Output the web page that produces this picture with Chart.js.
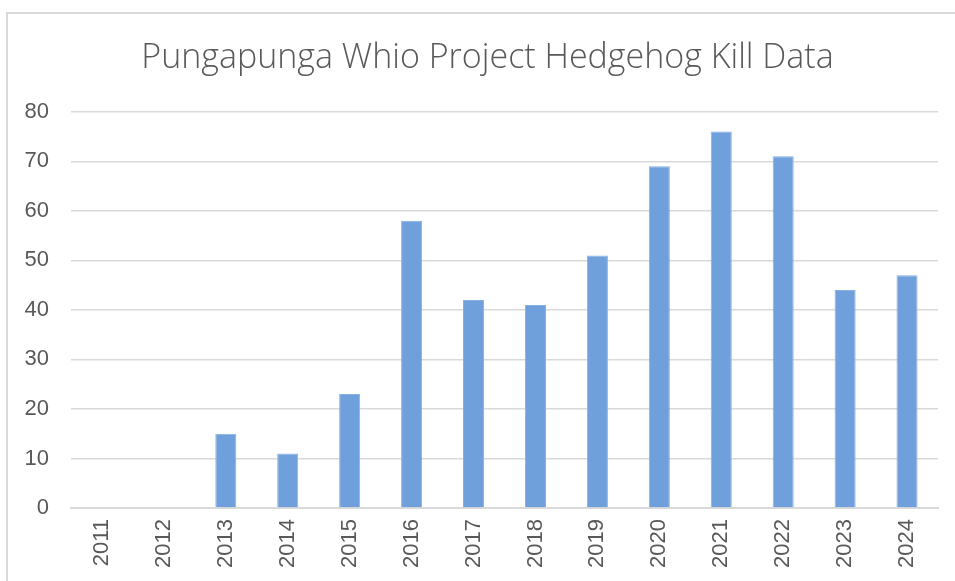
<!DOCTYPE html>
<html>
<head>
<meta charset="utf-8">
<script src="https://cdn.jsdelivr.net/npm/chart.js@4"></script>
<style>
  body { margin: 0; background: #fff; }
  #frame { position: absolute; left: 6px; top: 12px; width: 1000px; height: 1000px; border: 2px solid #d9d9d9; }
  #wrap { position: absolute; left: 0; top: 0; width: 955px; height: 581px; }
</style>
</head>
<body>
<div id="frame"></div>
<div id="wrap"><canvas id="killChart"></canvas></div>
<script>
// Hedgehog kills per year
const years = ['2011', '2012', '2013', '2014', '2015', '2016', '2017', '2018', '2019', '2020', '2021', '2022', '2023', '2024'];
const kills = [0, 0, 15, 11, 23, 58, 42, 41, 51, 69, 76, 71, 44, 47];
const yTicks = [0, 10, 20, 30, 40, 50, 60, 70, 80];

// nudge the title so it is centred on the frame, not on the canvas
const shiftTitle = {
    id: 'shiftTitle',
    afterLayout(chart) {
        const t = chart.titleBlock;
        if (t) { t.left += 37; t.width -= 37; }
    }
};

const ctx = document.getElementById('killChart').getContext('2d');
new Chart(ctx, {
    type: 'bar',
    data: {
        labels: years,
        datasets: [{
            label: 'Hedgehogs',
            data: kills,
            backgroundColor: '#6fa0dc',
            borderColor: '#86b0e3',
            borderWidth: 1,
            barPercentage: 0.34,
            categoryPercentage: 1
        }]
    },
    options: {
        responsive: true,
        maintainAspectRatio: false,
        animation: false,
        layout: { padding: { left: 0, right: 17, top: 0, bottom: 0 } },
        plugins: {
            legend: { display: false },
            tooltip: { enabled: false },
            title: {
                display: true,
                text: 'Pungapunga Whio Project Hedgehog Kill Data',
                color: '#595959',
                font: { family: 'Open Sans', size: 34, weight: 300, lineHeight: 1.2 },
                padding: { top: 38, bottom: 33 }
            }
        },
        scales: {
            x: {
                grid: { display: false },
                border: { color: '#d9d9d9', width: 2 },
                ticks: {
                    color: '#595959',
                    font: { family: 'Liberation Sans', size: 22 },
                    minRotation: 90,
                    maxRotation: 90,
                    padding: 3
                },
                afterFit: scale => { scale.height = 73; }
            },
            y: {
                min: 0,
                max: 80,
                afterBuildTicks: scale => { scale.ticks = yTicks.map(v => ({ value: v })); },
                grid: { color: '#d9d9d9', lineWidth: 1.5, drawTicks: false },
                border: { display: false },
                ticks: {
                    color: '#595959',
                    font: { family: 'Liberation Sans', size: 22 },
                    padding: 22
                },
                afterFit: scale => { scale.width = 71; }
            }
        }
    },
    plugins: [shiftTitle]
});
</script>
</body>
</html>
